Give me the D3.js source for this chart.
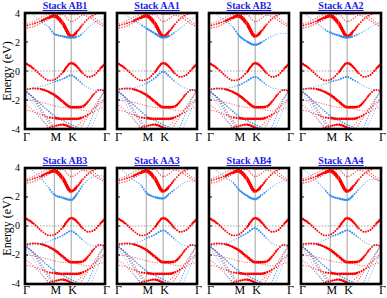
<!DOCTYPE html>
<html>
<head>
<meta charset="utf-8">
<title>Band structures of stacks</title>
<script src="https://d3js.org/d3.v7.min.js"></script>
<style>
  body { margin: 0; background: #fff; }
  svg text { font-family: "Liberation Serif", "DejaVu Serif", serif; }
</style>
</head>
<body>
<div id="vis"></div>
<script>
const width = 387
const height = 298

const titles = ["Stack AB1", "Stack AA1", "Stack AB2", "Stack AA2",
                "Stack AB3", "Stack AA3", "Stack AB4", "Stack AA4"]

// k path Γ-M-K-Γ (fraction of path length) where the energies are read
const kPath = [0, 0.1, 0.2, 0.3, 0.366, 0.47, 0.577, 0.65, 0.72, 0.79, 0.86, 0.93, 1.0]
const kLabels = ["Γ", "M", "K", "Γ"]
const kLabelPos = [0, 0.366, 0.577, 1]
const yTicks = [-4, -2, 0, 2, 4]

// red bands (look the same in every stack), energies in eV
const redC1 = [3.1, 3.25, 3.45, 3.7, 3.8, 3.3, 2.4, 2.7, 3.2, 3.6, 3.85, 4.0, 4.1]
const redC1Wt = [0.2, 0.2, 0.35, 0.65, 1, 0.85, 0.85, 0.5, 0.3, 0.2, 0.2, 0.2, 0.2]
const redC2 = [2.95, 3.05, 3.3, 3.6, 3.9, 3.9, 3.4, 3.6, 3.85, 3.75, 3.5, 3.25, 3.05]
const redC3 = [3.2, 3.4, 3.7, 3.95, 4.2, 4.2, 3.9, 3.9, 4.1, 4.0, 3.7, 3.4, 3.2]
const redV1 = [0.55, 0.2, -0.3, -0.65, -0.6, -0.1, 0.55, 0.3, -0.15, -0.4, -0.3, 0.1, 0.5]
const redV1Wt = [0.55, 0.4, 0.3, 0.25, 0.25, 0.35, 0.6, 0.5, 0.35, 0.3, 0.3, 0.4, 0.55]
const redV2 = [-1.3, -1.2, -1.25, -1.45, -1.65, -2.1, -2.5, -2.5, -2.45, -2.1, -1.6, -1.3, -1.4]
const redV2Wt = [0.3, 0.3, 0.4, 0.5, 0.6, 0.6, 0.6, 0.6, 0.55, 0.45, 0.3, 0.3, 0.3]
const redV3 = [-2.0, -2.05, -2.15, -2.3, -2.4, -2.5, -2.55, -2.6, -2.7, -2.75, -2.6, -2.3, -2.0]
const redV4 = [-2.7, -2.8, -3.0, -3.2, -3.25, -3.3, -3.3, -3.3, -3.2, -3.0, -2.8, -2.6, -2.5]
const redV4Wt = [0.05, 0.05, 0.1, 0.25, 0.45, 0.6, 0.6, 0.6, 0.45, 0.25, 0.1, 0.05, 0.05]
const redV5 = [-1.35, -1.8, -2.6, -3.4, -3.9, -4.6, null, null, null, null, null, null, null]
const redV6 = [-2.3, -2.7, -3.3, -3.9, -4.4, null, null, null, null, null, null, null, null]
const redV7 = [null, null, null, null, null, null, -4.8, -4.3, -3.7, -3.1, -2.5, -1.9, -1.35]
const redV8 = [null, null, null, null, null, -4.6, -4.1, -3.8, -3.4, -3.0, -2.6, -2.2, -1.9]
const redV9 = [-4.4, -4.3, -4.1, -3.9, -3.8, -3.7, -3.9, -4.1, -4.4, null, null, null, null]
const redV9Wt = [0.05, 0.05, 0.1, 0.25, 0.35, 0.45, 0.55, 0.35, 0.15, 0.05, 0.05, 0.05, 0.05]

// light blue bands shared by the stacks
const blueS1 = [-1.3, -1.9, -2.8, -3.6, -4.1, -4.8, null, null, null, null, null, null, null]
const blueS2 = [-1.5, -2.2, -3.2, -4.0, -4.5, null, null, null, null, null, null, null, null]
const blueS3 = [-1.4, -1.8, -2.3, -2.8, -3.1, -3.4, -3.7, -3.9, -4.2, null, null, null, null]
const blueS4 = [null, null, null, null, null, null, null, -4.6, -4.5, -3.8, -2.9, -2.0, -1.3]
const blueS5 = [null, null, null, null, null, null, null, null, -4.8, -4.3, -3.5, -2.6, -1.8]

// blue conduction band of each stack
const blueCond = [
  [4.4, 3.9, 3.4, 3.0, 2.55, 2.4, 2.3, 2.35, 2.6, 3.0, 3.3, 3.5, 3.6],
  [4.4, 3.9, 3.55, 3.2, 2.95, 2.6, 2.3, 2.4, 2.65, 2.95, 3.25, 3.55, 3.8],
  [4.4, 3.9, 3.45, 3.0, 2.5, 2.05, 1.8, 1.95, 2.2, 2.4, 2.55, 2.6, 2.6],
  [4.2, 3.7, 3.3, 2.85, 2.65, 2.45, 2.3, 2.4, 2.55, 2.75, 3.0, 3.2, 3.4],
  [4.3, 3.8, 3.3, 2.6, 2.15, 1.95, 1.8, 2.2, 2.8, 3.2, 3.4, 3.5, 3.4],
  [4.2, 3.7, 3.2, 2.8, 2.3, 2.0, 1.9, 2.2, 2.5, 2.8, 3.05, 3.1, 3.0],
  [4.3, 3.8, 3.35, 3.0, 2.55, 2.1, 1.85, 2.1, 2.4, 2.7, 2.95, 3.1, 3.2],
  [4.0, 3.6, 3.05, 2.5, 2.1, 1.9, 1.8, 2.1, 2.5, 2.9, 3.2, 3.2, 3.1]
]
const blueCondWt = [0.05, 0.05, 0.1, 0.2, 0.35, 0.45, 0.5, 0.35, 0.2, 0.1, 0.05, 0.05, 0.05]
// blue valence band of each stack
const blueVal = [
  [-1.3, -1.2, -1.05, -0.9, -0.75, -0.55, -0.3, -0.55, -0.9, -1.15, -1.3, -1.3, -1.3],
  [-1.3, -1.25, -1.15, -1.0, -0.85, -0.5, -0.05, -0.35, -0.7, -1.0, -1.2, -1.3, -1.3],
  [-1.3, -1.25, -1.2, -1.1, -1.0, -0.7, -0.4, -0.65, -0.95, -1.15, -1.25, -1.3, -1.3],
  [-1.3, -1.2, -1.05, -0.9, -0.75, -0.6, -0.4, -0.6, -0.8, -1.05, -1.2, -1.3, -1.3],
  [-1.35, -1.3, -1.2, -1.05, -0.9, -0.65, -0.35, -0.6, -0.95, -1.25, -1.35, -1.35, -1.35],
  [-1.35, -1.3, -1.2, -1.05, -0.85, -0.6, -0.3, -0.55, -0.9, -1.2, -1.35, -1.35, -1.35],
  [-1.35, -1.3, -1.2, -1.0, -0.8, -0.5, -0.15, -0.45, -0.85, -1.2, -1.35, -1.35, -1.35],
  [-1.35, -1.3, -1.15, -0.95, -0.75, -0.55, -0.3, -0.5, -0.8, -1.1, -1.3, -1.35, -1.35]
]
const blueValWt = [0.05, 0.05, 0.05, 0.1, 0.2, 0.3, 0.4, 0.3, 0.15, 0.1, 0.05, 0.05, 0.05]

const red = "#ff0000"
const blue = "#2f8ff0"

const redBands = [
  {e: redC1, wt: redC1Wt}, {e: redC2, wt: 0.15}, {e: redC3, wt: 0.08},
  {e: redV1, wt: redV1Wt}, {e: redV2, wt: redV2Wt}, {e: redV3, wt: 0.05},
  {e: redV4, wt: redV4Wt}, {e: redV5, wt: 0.08}, {e: redV6, wt: 0.03},
  {e: redV7, wt: 0.08}, {e: redV8, wt: 0.03}, {e: redV9, wt: redV9Wt}
]
const blueShared = [
  {e: blueS1, wt: 0.15}, {e: blueS2, wt: 0.02}, {e: blueS3, wt: 0.2},
  {e: blueS4, wt: 0.15}, {e: blueS5, wt: 0.02}
]

const svg = d3.select("#vis").append("svg")
  .attr("width", width)
  .attr("height", height)
  .attr("font-family", "Liberation Serif, DejaVu Serif, serif")

const col = d3.scaleBand().domain([0, 1, 2, 3]).range([25, 381]).paddingInner(0.13)
const row = d3.scaleBand().domain([0, 1]).range([13, 284]).paddingInner(0.2516)
const pw = col.bandwidth()
const ph = row.bandwidth()

const x = d3.scaleLinear().domain([0, 1]).range([0, pw])
const y = d3.scaleLinear().domain([-4, 4]).range([ph, 0])
const wScale = d3.scaleLinear().domain([0, 1]).range([1, 4.2])

const line = d3.line()
  .defined(d => d[1] != null)
  .x(d => x(d[0]))
  .y(d => y(d[1]))
  .curve(d3.curveMonotoneX)

const defs = svg.append("defs")
for (let i = 0; i < kPath.length - 1; i++) {
  defs.append("clipPath").attr("id", "seg" + i)
    .append("rect")
    .attr("x", x(kPath[i]))
    .attr("y", 0)
    .attr("width", x(kPath[i + 1]) - x(kPath[i]))
    .attr("height", ph)
}

function drawBand(g, band, color) {
  const pts = kPath.map((k, i) => [k, band.e[i]])
  const d = line(pts)
  for (let i = 0; i < kPath.length - 1; i++) {
    if (band.e[i] == null && band.e[i + 1] == null) continue
    const w0 = Array.isArray(band.wt) ? band.wt[i] : band.wt
    const w1 = Array.isArray(band.wt) ? band.wt[i + 1] : band.wt
    const w = wScale((w0 + w1) / 2)
    g.append("path")
      .attr("d", d)
      .attr("clip-path", "url(#seg" + i + ")")
      .attr("fill", "none")
      .attr("stroke", color)
      .attr("stroke-width", w)
      .attr("stroke-linecap", "round")
      .attr("stroke-dasharray", w < 2.2 ? "0 2.6" : "0 2.2")
      .attr("opacity", w < 1.5 ? 0.7 : 1)
  }
}

titles.forEach((title, p) => {
  const c = p % 4
  const r = Math.floor(p / 4)
  const g = svg.append("g")
    .attr("transform", `translate(${col(c)},${row(r)})`)

  // guide lines at M, K and the Fermi level
  g.selectAll(".vline")
    .data([0.366, 0.577])
    .join("line")
    .attr("x1", d => x(d)).attr("x2", d => x(d))
    .attr("y1", 0).attr("y2", ph)
    .attr("stroke", "#a0a0a0")
    .attr("stroke-width", 1)
  g.append("line")
    .attr("x1", 0).attr("x2", pw)
    .attr("y1", y(0)).attr("y2", y(0))
    .attr("stroke", "#8a8a8a")
    .attr("stroke-width", 0.8)
    .attr("stroke-dasharray", "1.5 1.5")

  blueShared.forEach(b => drawBand(g, b, blue))
  redBands.forEach(b => drawBand(g, b, red))
  drawBand(g, {e: blueVal[p], wt: blueValWt}, blue)
  drawBand(g, {e: blueCond[p], wt: blueCondWt}, blue)

  // inner ticks
  g.selectAll(".tick")
    .data(yTicks)
    .join("line")
    .attr("x1", 0).attr("x2", 3)
    .attr("y1", d => y(d)).attr("y2", d => y(d))
    .attr("stroke", "#000")
    .attr("stroke-width", 1)

  g.append("rect")
    .attr("x", 0).attr("y", 0)
    .attr("width", pw).attr("height", ph)
    .attr("fill", "none")
    .attr("stroke", "#000")
    .attr("stroke-width", 2.6)

  g.append("text")
    .attr("x", pw / 2)
    .attr("y", -4)
    .attr("text-anchor", "middle")
    .attr("font-size", 10)
    .attr("font-weight", "bold")
    .attr("fill", "#1c1ce8")
    .attr("text-decoration", "underline")
    .text(title)

  g.selectAll(".klab")
    .data(kLabels)
    .join("text")
    .attr("x", (d, i) => x(kLabelPos[i]) + 1.5)
    .attr("y", ph + (r === 0 ? 12 : 10.5))
    .attr("text-anchor", "middle")
    .attr("font-size", 12)
    .text(d => d)

  if (c === 0) {
    g.selectAll(".ylab")
      .data(yTicks)
      .join("text")
      .attr("x", -5)
      .attr("y", d => y(d))
      .attr("dy", "0.35em")
      .attr("text-anchor", "end")
      .attr("font-size", 10)
      .text(d => d)
    g.append("text")
      .attr("transform", `translate(${10.5 - col(0)},${ph / 2}) rotate(-90)`)
      .attr("text-anchor", "middle")
      .attr("font-size", 12)
      .text("Energy (eV)")
  }
})
</script>
</body>
</html>
